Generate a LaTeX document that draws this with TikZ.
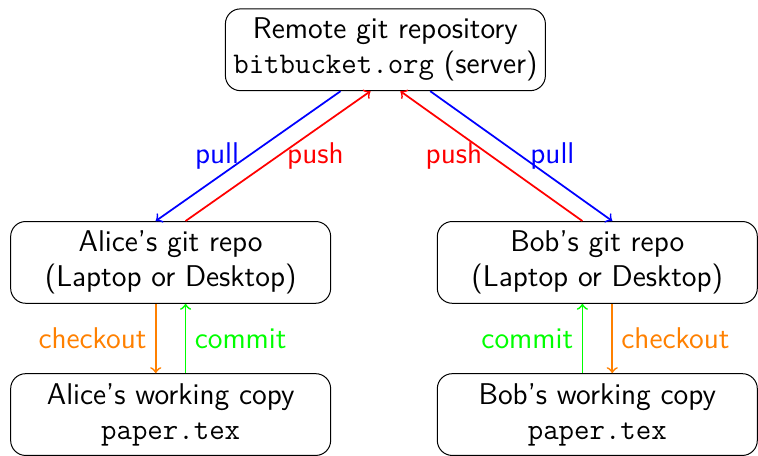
\documentclass[tikz,border=0pt]{standalone}
\usepackage{tikz}
\usetikzlibrary{calc}

\begin{document}
\begin{tikzpicture}[
    font=\large\sffamily,
    repo/.style={draw, rounded corners=6pt, align=center, minimum width=4.5cm, minimum height=1.15cm, inner sep=2pt},
    link/.style={->, line width=0.7pt}
  ]
  \useasboundingbox (0,0) rectangle (10.66,-6.40);

  % server
  \node[repo] (remote) at (5.42,-0.70) {Remote git repository\\\texttt{bitbucket.org} (server)};

  % local repositories
  \node[repo] (alicerepo) at (2.40,-3.69) {Alice's git repo\\(Laptop or Desktop)};
  \node[repo] (bobrepo) at (8.40,-3.69) {Bob's git repo\\(Laptop or Desktop)};

  % working copies
  \node[repo] (alicework) at (2.40,-5.83) {Alice's working copy\\\texttt{paper.tex}};
  \node[repo] (bobwork) at (8.40,-5.83) {Bob's working copy\\\texttt{paper.tex}};

  % pull / push with the server
  \draw[link, blue] ([xshift=-0.63cm]remote.south) -- ([xshift=-0.21cm]alicerepo.north) node[midway, left] {pull};
  \draw[link, red] ([xshift=0.21cm]alicerepo.north) -- ([xshift=-0.21cm]remote.south) node[midway, right] {push};
  \draw[link, red] ([xshift=-0.21cm]bobrepo.north) -- ([xshift=0.21cm]remote.south) node[midway, left] {push};
  \draw[link, blue] ([xshift=0.63cm]remote.south) -- ([xshift=0.21cm]bobrepo.north) node[midway, right] {pull};

  % checkout / commit
  \draw[link, orange] ([xshift=-0.21cm]alicerepo.south) -- ([xshift=-0.21cm]alicework.north) node[midway, left] {checkout};
  \draw[link, green] ([xshift=0.21cm]alicework.north) -- ([xshift=0.21cm]alicerepo.south) node[midway, right] {commit};
  \draw[link, green] ([xshift=-0.21cm]bobwork.north) -- ([xshift=-0.21cm]bobrepo.south) node[midway, left] {commit};
  \draw[link, orange] ([xshift=0.21cm]bobrepo.south) -- ([xshift=0.21cm]bobwork.north) node[midway, right] {checkout};
\end{tikzpicture}
\end{document}
